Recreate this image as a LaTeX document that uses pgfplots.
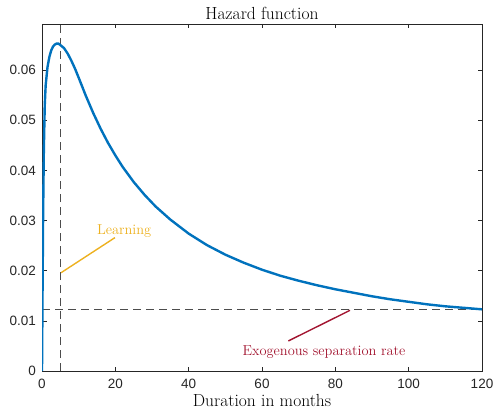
\documentclass[border=0pt]{standalone}
\usepackage{fontspec}
\usepackage{pgfplots}
\pgfplotsset{compat=1.18}
\newfontfamily\ticksf{Liberation Sans}
\definecolor{mblue}{rgb}{0,0.447,0.741}
\definecolor{myellow}{rgb}{0.929,0.694,0.125}
\definecolor{mred}{rgb}{0.635,0.078,0.184}
\definecolor{axgray}{rgb}{0.15,0.15,0.15}
\definecolor{dgray}{rgb}{0.3,0.3,0.3}
\pgfplotstableread{
x y
0 0
0.15 0.016
0.3 0.031
0.5 0.044
0.75 0.0530
1.0 0.0570
1.5 0.0606
2.0 0.0626
2.5 0.0639
3.0 0.0647
3.5 0.0651
4.0 0.0653
4.5 0.0653
5 0.0650
6 0.0644
7 0.0633
8 0.0619
9 0.0603
10 0.0585
12 0.0548
14 0.0514
16 0.0483
18 0.0455
20 0.0430
22 0.0407
25 0.0377
28 0.0351
31 0.0328
35 0.0302
40 0.0274
45 0.0251
50 0.0232
55 0.0216
60 0.0202
65 0.0190
70 0.0180
75 0.0171
80 0.0163
85 0.0156
90 0.0149
95 0.0143
100 0.0138
105 0.0133
110 0.0129
115 0.0126
120 0.0123
}\hazard
\begin{document}
\begin{tikzpicture}
\begin{axis}[
 scale only axis, width=440pt, height=347pt,
 xmin=0,xmax=120,ymin=0,ymax=0.0692,
 xtick={0,20,40,60,80,100,120},
 ytick={0,0.01,0.02,0.03,0.04,0.05,0.06},
 tick align=inside, major tick length=4.5pt,
 axis line style={axgray, line width=0.6pt},
 tick style={axgray, line width=0.6pt},
 tick label style={font=\ticksf\fontsize{13.5}{15}\selectfont, text=axgray},
 xticklabel style={yshift=-5pt},
 yticklabel style={xshift=-2.5pt, /pgf/number format/fixed, /pgf/number format/precision=2},
 /pgf/number format/assume math mode=true,
 scaled y ticks=false,
 title={\fontsize{17.5}{20}\selectfont Hazard function},
 title style={yshift=-5pt},
 xlabel={\fontsize{17.5}{20}\selectfont Duration in months},
 xlabel style={yshift=2pt},
]
\addplot[dgray, line width=1.1pt, dash pattern=on 8pt off 5pt] coordinates {(5,0) (5,0.0692)};
\addplot[dgray, line width=1.1pt, dash pattern=on 8pt off 5pt] coordinates {(0,0.0122) (120,0.0122)};
\addplot[mblue, line width=2.4pt, line join=round] table[x=x,y=y] {\hazard};
\draw[myellow, line width=1.4pt] (axis cs:5.2,0.0196) -- (axis cs:19.9,0.0266);
\node[text=myellow, font=\fontsize{14.4}{16}\selectfont] at (axis cs:22.4,0.0280) {Learning};
\draw[mred, line width=1.4pt] (axis cs:67.2,0.0060) -- (axis cs:84,0.0121);
\node[text=mred, font=\fontsize{14.4}{16}\selectfont] at (axis cs:76.9,0.0037) {Exogenous separation rate};
\coordinate (bl) at (rel axis cs:0,0);
\coordinate (tr) at (rel axis cs:1,1);
\end{axis}
\pgfresetboundingbox
\path ([shift={(-42pt,-39pt)}]bl) rectangle ([shift={(12pt,24pt)}]tr);
\end{tikzpicture}
\end{document}
